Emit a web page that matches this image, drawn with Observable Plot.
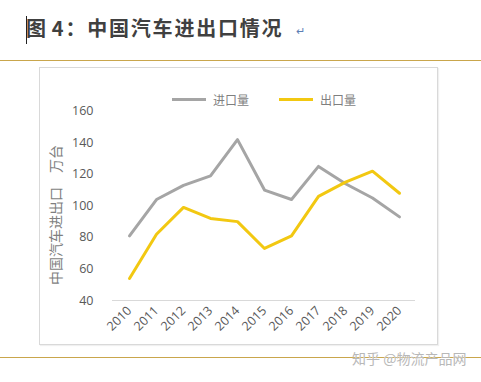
<!DOCTYPE html>
<html>
<head>
<meta charset="utf-8">
<script src="https://cdn.jsdelivr.net/npm/d3@7"></script>
<script src="https://cdn.jsdelivr.net/npm/@observablehq/plot@0.6"></script>
<style>
  html, body { margin: 0; padding: 0; background: #fff; }
  #wrap { position: relative; width: 481px; height: 382px; overflow: hidden; background: #fff; font-family: "Noto Sans CJK SC", "Noto Sans", sans-serif; }
  #title { position: absolute; left: 26px; top: 14px; font-size: 20px; font-weight: bold; color: #404040; white-space: nowrap; line-height: 28px; letter-spacing: 1.8px; }
  #title .n { margin-left: 4px; }
  #cursor { position: absolute; left: 26px; top: 16px; width: 1px; height: 28px; background: #222; }
  #ret { position: absolute; left: 296px; top: 22px; font-size: 11px; color: #5b7fb5; }
  .gold { position: absolute; left: 0; width: 481px; height: 1px; background: #c9a64c; }
  #box { position: absolute; left: 39px; top: 67px; width: 397px; height: 276px; border: 1px solid #d9d9d9; box-shadow: 1px 1px 1px rgba(0,0,0,0.06); }
  #chart { position: absolute; left: 0; top: 0; }
  #legend { position: absolute; left: 172px; top: 91px; font-size: 12px; color: #7f7f7f; display: flex; align-items: center; white-space: nowrap; }
  .sw { display: inline-block; width: 34px; height: 3px; margin-right: 7px; }
  .lg { display: inline-flex; align-items: center; margin-right: 30px; }
  #ylab { position: absolute; left: 55px; top: 215px; transform: translate(-50%, -50%) rotate(-90deg); font-size: 14px; color: #7f7f7f; white-space: nowrap; }
  #wm { position: absolute; left: 352px; top: 348px; font-size: 14px; color: #b8b8b8; white-space: nowrap; text-shadow: 0 0 1px #fff; }
</style>
</head>
<body>
<div id="wrap">
  <div id="cursor"></div>
  <div id="title">图<span class="n">4</span>：中国汽车进出口情况</div>
  <div id="ret">↵</div>
  <div class="gold" style="top:60px"></div>
  <div id="box"></div>
  <div id="chart"></div>
  <div id="legend"></div>
  <div id="ylab"></div>
  <div class="gold" style="top:357px"></div>
  <div id="wm">知乎 @物流产品网</div>
</div>
<script>
const years = ["2010","2011","2012","2013","2014","2015","2016","2017","2018","2019","2020"];
const importValues = [81, 104, 113, 119, 142, 110, 104, 125, 114, 105, 93];
const exportValues = [54, 82, 99, 92, 90, 73, 81, 106, 115, 122, 108];
const seriesNames = ["进口量", "出口量"];
const seriesColors = ["#a5a5a5", "#f2c811"];
const yTicks = [40, 60, 80, 100, 120, 140, 160];
const yLabel = "中国汽车进出口　万台";

const rows = years.flatMap((y, i) => [
  {year: y, value: importValues[i], series: seriesNames[0]},
  {year: y, value: exportValues[i], series: seriesNames[1]}
]);

const plot = Plot.plot({
  width: 481,
  height: 382,
  marginLeft: 112,
  marginRight: 66,
  marginTop: 110.7,
  marginBottom: 82,
  style: {fontFamily: "'Open Sans', 'Liberation Sans', sans-serif", fontSize: "12.5px", color: "#595959", background: "transparent"},
  x: {type: "point", domain: years, padding: 0.5},
  y: {domain: [40, 160]},
  color: {domain: seriesNames, range: seriesColors},
  marks: [
    Plot.ruleY([40], {stroke: "#d9d9d9", strokeWidth: 1}),
    Plot.axisY({ticks: yTicks, tickSize: 0, tickPadding: 19, label: null}),
    Plot.axisX({tickRotate: -45, tickSize: 0, tickPadding: 8, label: null}),
    Plot.line(rows, {x: "year", y: "value", z: "series", stroke: "series", strokeWidth: 3, strokeLinejoin: "round", strokeLinecap: "round"})
  ]
});
document.getElementById("chart").appendChild(plot);

const legend = document.getElementById("legend");
seriesNames.forEach((n, i) => {
  const item = document.createElement("span");
  item.className = "lg";
  const sw = document.createElement("span");
  sw.className = "sw";
  sw.style.background = seriesColors[i];
  item.appendChild(sw);
  item.appendChild(document.createTextNode(n));
  legend.appendChild(item);
});
document.getElementById("ylab").textContent = yLabel;
</script>
</body>
</html>
